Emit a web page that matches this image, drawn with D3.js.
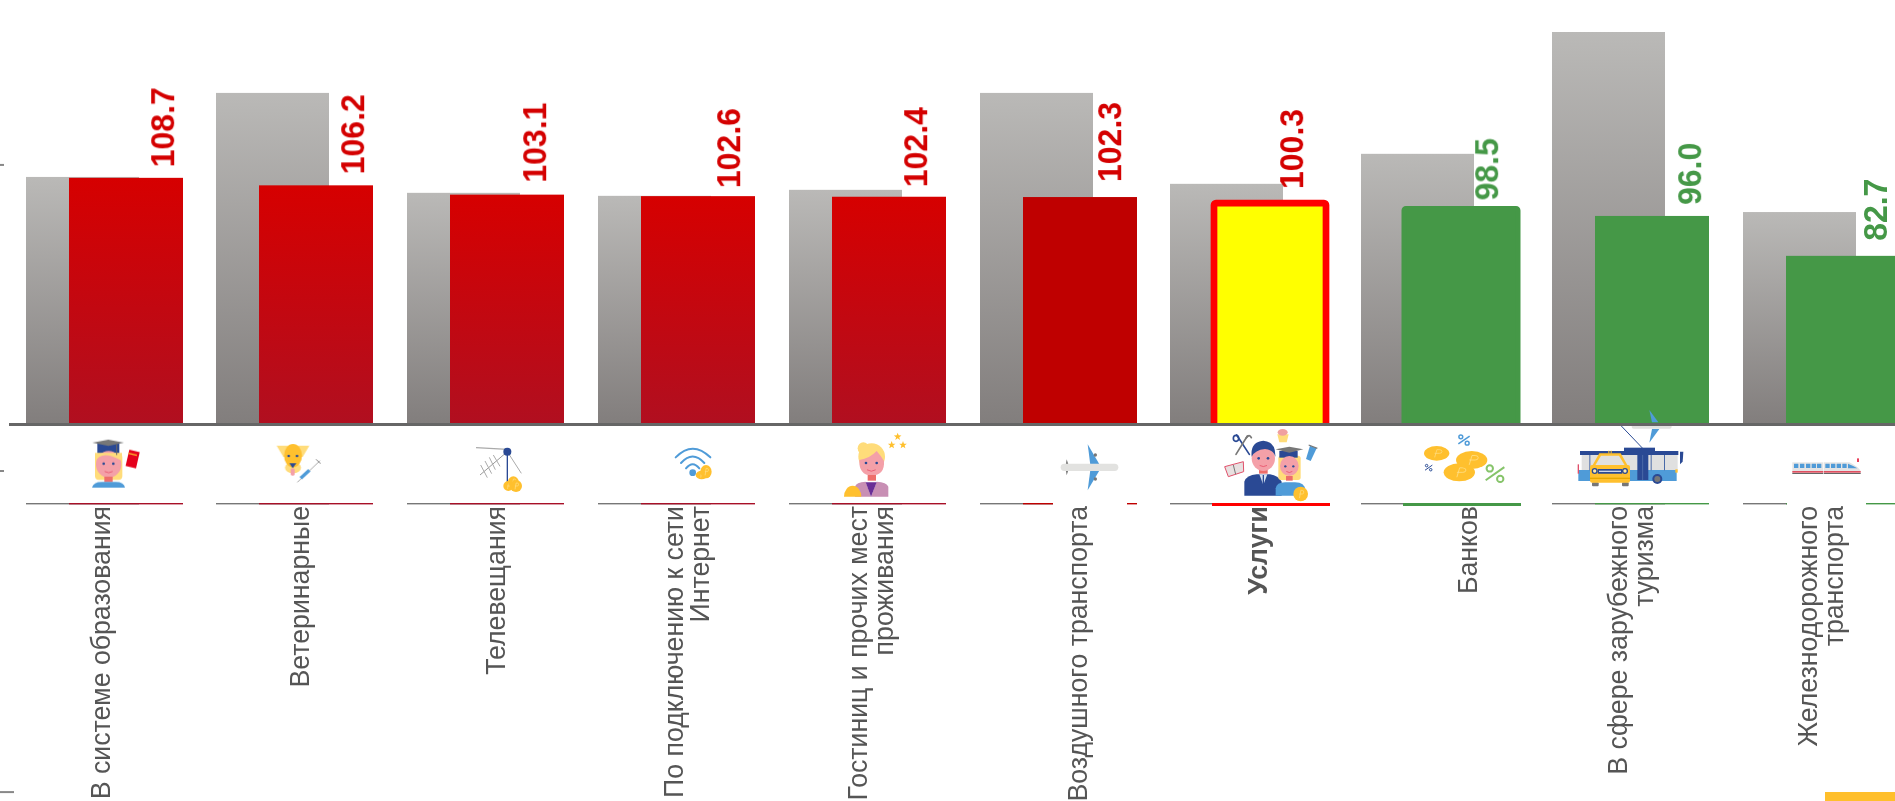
<!DOCTYPE html>
<html><head><meta charset="utf-8">
<style>html,body{margin:0;padding:0;background:#fff;overflow:hidden}svg{display:block}</style>
<script src="https://cdn.jsdelivr.net/npm/d3@7/dist/d3.min.js"></script></head><body>
<svg id="c" width="1895" height="801"></svg>
<script>
const categories=["В системе образования","Ветеринарные","Телевещания","По подключению к сети|Интернет","Гостиниц и прочих мест|проживания","Воздушного транспорта","Услуги","Банков","В сфере зарубежного|туризма","Железнодорожного|транспорта"];
const greyValues=[109,137,103.7,102.7,104.7,137,106.7,116.7,157.3,97.3];
const colorValues=[108.7,106.2,103.1,102.6,102.4,102.3,100.3,98.5,96.0,82.7];
const kinds=["red","red","red","red","red","dark","total","bank","green","green"];
const axisTicks=[113,11,-96];
// layout only
const tickLen=[4,4,14];
const labelBase=[110,309,505,683,867,1087,1267,1477,1627,1817];
const valueBase=[174,364,546,740,927,1121,1303,1498,1701,1887];
const valueShift=[1.5,1,0,4,2.5,-3,-2,4,1,-3];

const svg=d3.select("#c");
const x=d3.scaleBand().domain(categories).range([-9,1899]).padding(0);
const y=d3.scaleLinear().domain([27,157.3]).range([423,32]);
const gw=113,cw=114,cOff=43;
const defs=svg.append("defs");
function grad(id,a,b){const g=defs.append("linearGradient").attr("id",id).attr("x1",0).attr("x2",0).attr("y1",0).attr("y2",1);
 g.append("stop").attr("offset",0).attr("stop-color",a);g.append("stop").attr("offset",1).attr("stop-color",b);}
grad("g","#bab9b7","#827e7d");grad("r","#d60000","#ae1022");
defs.append("clipPath").attr("id","above").append("rect").attr("width",1895).attr("height",423);
defs.append("filter").attr("id","soft").append("feGaussianBlur").attr("stdDeviation",1.3);
const fill={red:"url(#r)",dark:"#bf0000",total:"#ffff00",bank:"#459847",green:"#459847"};
const rule={red:"#a81028",dark:"#bf0000",total:"#ff0000",bank:"#459847",green:"#459847"};
const ink={red:"#d40000",dark:"#d40000",total:"#d40000",bank:"#459847",green:"#459847"};
const sw={total:6.7,bank:5};
const items=categories.map((c,i)=>({c,i,g:greyValues[i],v:colorValues[i],k:kinds[i]}));
const x0=d=>Math.floor(x(d.c)+35);
const xc=d=>x0(d)+cOff+(d.k=="total"?1:0);
const wc=d=>d.k=="total"?112:cw;

svg.selectAll(".g").data(items).join("rect").attr("x",x0).attr("width",gw).attr("y",d=>y(d.g)).attr("height",d=>423-y(d.g)).attr("fill","url(#g)");
svg.append("g").attr("clip-path","url(#above)").selectAll("rect").data(items).join("rect")
 .attr("x",xc).attr("width",wc).attr("y",d=>y(d.v)).attr("height",d=>440-y(d.v))
 .attr("fill",d=>fill[d.k]).attr("rx",d=>sw[d.k]?2:0)
 .attr("stroke",d=>d.k=="total"?"#ff0000":d.k=="bank"?"#459847":"none").attr("stroke-width",d=>sw[d.k]||0);

// lower rule
svg.selectAll(".lg").data(items).join("rect").attr("x",x0).attr("width",gw).attr("y",503).attr("height",1.4).attr("fill","#777");
svg.selectAll(".lv").data(items).join("rect").attr("x",d=>d.k=="total"?1212:d.k=="bank"?1403:xc(d)).attr("width",d=>d.k=="total"?118:d.k=="bank"?118:cw)
 .attr("y",503).attr("height",d=>sw[d.k]?3:1.4).attr("fill",d=>rule[d.k]);
[[1053,1127],[1787,1866]].forEach(m=>svg.append("rect").attr("x",m[0]).attr("y",500).attr("width",m[1]-m[0]).attr("height",8).attr("fill","#fff"));

// ---------- icons (decorative pictograms) ----------
const NAVY="#2a4a94",GOLD="#ffc02e",SKIN="#f4a0a8",HAIR="#ffdc7a",BLUE="#4f9bd8",NECK="#ee6e6a";
function layer(ox,oy){return svg.append("g").attr("transform",`translate(${ox},${oy}) scale(${1/3})`).attr("filter","url(#soft)");}
const ell=(g,cx,cy,rx,ry,f)=>g.append("ellipse").attr("cx",cx).attr("cy",cy).attr("rx",rx).attr("ry",ry).attr("fill",f);
const box=(g,a,b,w,h,f,r)=>g.append("rect").attr("x",a).attr("y",b).attr("width",w).attr("height",h).attr("fill",f).attr("rx",r||0);
const pth=(g,dd,f)=>g.append("path").attr("d",dd).attr("fill",f);
const seg=(g,a,b,c,e,s,w)=>g.append("line").attr("x1",a).attr("y1",b).attr("x2",c).attr("y2",e).attr("stroke",s).attr("stroke-width",w);
const arc=(g,dd,s,w)=>g.append("path").attr("d",dd).attr("fill","none").attr("stroke",s).attr("stroke-width",w).attr("stroke-linecap","round");
function star(g,cx,cy,r,f){const p=d3.range(10).map(i=>{const a=-Math.PI/2+i*Math.PI/5,q=i%2?r*.42:r;return [cx+q*Math.cos(a),cy+q*Math.sin(a)].join(",")}).join(" ");g.append("polygon").attr("points",p).attr("fill",f);}
function pct(g,cx,cy,s,col,w){const a=s*.28;g.append("circle").attr("cx",cx-a).attr("cy",cy-a).attr("r",s*.17).attr("fill","none").attr("stroke",col).attr("stroke-width",w);
 g.append("circle").attr("cx",cx+a).attr("cy",cy+a).attr("r",s*.17).attr("fill","none").attr("stroke",col).attr("stroke-width",w);seg(g,cx-s*.5,cy+s*.35,cx+s*.5,cy-s*.35,col,w);}
function coin(g,cx,cy,rx,ry){ell(g,cx,cy,rx,ry,GOLD);arc(g,`M${cx-rx*.15} ${cy+ry*.5}L${cx+rx*.02} ${cy-ry*.5}h${rx*.2}a${rx*.2} ${ry*.25} 0 0 1 0 ${ry*.5}h-${rx*.35}`,"#ffe08a",Math.max(2,ry*.09));}

// graduate
let g=layer(60,425);
box(g,105,85,82,80,HAIR,12);box(g,112,55,66,30,NAVY);
pth(g,"M97 53L145 44L192 53L145 63Z","#777");
ell(g,146,118,38,40,SKIN);pth(g,"M105 110Q125 72 186 108L186 84L105 84Z",HAIR);
ell(g,131,116,4,4,NAVY);ell(g,160,116,4,4,NAVY);arc(g,"M135 140Q146 147 157 140","#e8506a",2.5);
box(g,133,155,25,16,NECK);pth(g,"M96 188Q100 171 125 171H167Q192 171 195 188Z",BLUE);
seg(g,170,58,170,90,"#666",3);
g.append("rect").attr("x",-16).attr("y",-25).attr("width",32).attr("height",50).attr("fill","#e4001b").attr("transform","translate(218,102) rotate(13)");
box(g,205,86,26,4,GOLD).attr("transform","rotate(13 218 88)");
// dog
pth(g,"M650 62H748L728 96H670Z",HAIR);ell(g,699,128,24,17,HAIR);ell(g,699,92,27,35,GOLD);
ell(g,686,93,4,4,NAVY);ell(g,711,93,4,4,NAVY);pth(g,"M688 115H709L698 130Z",NAVY);box(g,692,130,12,22,SKIN,5);
seg(g,712,172,780,107,"#aaa",3);seg(g,722,160,748,136,BLUE,10);seg(g,768,103,782,116,"#888",3);

// antenna + wifi
g=layer(450,425);
seg(g,78,68,172,73,"#aaa",4);seg(g,172,80,90,150,"#999",3);seg(g,172,80,214,145,"#aaa",3);seg(g,172,80,172,172,NAVY,4);
[[92,120,112,158],[105,108,125,146],[118,97,136,134],[130,90,150,124]].forEach(q=>seg(g,q[0],q[1],q[2],q[3],"#aaa",3));
ell(g,172,80,12,12,NAVY);coin(g,175,183,15,15);coin(g,190,170,16,16);coin(g,198,183,18,18);
arc(g,"M677 97Q728 45 781 97",BLUE,6);arc(g,"M693 114Q728 75 763 114",BLUE,6);arc(g,"M708 130Q728 105 748 130",BLUE,6);
ell(g,728,143,10,10,BLUE);coin(g,755,150,18,13);coin(g,768,140,17,20);

// hotel + plane
g=layer(820,425);
ell(g,130,70,17,18,HAIR);ell(g,155,95,40,40,HAIR);pth(g,"M118 105Q150 100 170 78Q185 95 192 108Q195 150 155 152Q116 150 118 105Z",SKIN);
ell(g,138,114,4,4,NAVY);ell(g,170,114,4,4,NAVY);arc(g,"M142 135Q154 143 166 135","#e8506a",2.5);box(g,143,150,25,17,NECK);
pth(g,"M105 215V185Q108 172 137 170L153 215L170 170Q200 172 205 185V215Z","#c88fb4");pth(g,"M137 172H170L153 215Z","#6a2e96");
pth(g,"M72 215A26 33 0 0 1 124 215Z",GOLD);
star(g,233,35,12,GOLD);star(g,215,60,12,GOLD);star(g,249,60,12,GOLD);
pth(g,"M803 58L839 119H811Z",BLUE);pth(g,"M811 135H839L803 196Z",BLUE);
ell(g,826,90,5,5,"#777");ell(g,826,162,5,5,"#777");
pth(g,"M740 103L748 127L740 151L736 127Z","#777");
box(g,722,116,173,22,"#e2e2e0",11);

// services
g=layer(1210,425);
arc(g,"M80 30L118 88",NAVY,5);arc(g,"M112 33L78 88","#777",5);ell(g,78,40,8,9,"none").attr("stroke",NAVY).attr("stroke-width",5);arc(g,"M108 40Q118 25 124 38","#777",5);
pth(g,"M44 125L100 110L101 140L55 155Z","#e8e0e0").attr("stroke","#e0506a").attr("stroke-width",3);seg(g,70,120,77,148,"#777",3);
pth(g,"M202 28H236L230 52H208Z",HAIR);ell(g,218,22,15,10,"#f0a0a0");
pth(g,"M300 62L320 70L302 108L288 102Z",BLUE);seg(g,296,60,322,70,"#777",4);
pth(g,"M103 212V170Q110 150 140 148H180Q205 152 215 170V212Z",NAVY);pth(g,"M148 148H172L160 180Z","#d8e4f2");seg(g,160,150,160,180,NAVY,4);
box(g,147,128,26,18,NECK);ell(g,160,100,35,38,SKIN);pth(g,"M125 95Q120 50 160 47Q198 50 196 95Q190 75 165 72Q135 75 125 95Z",NAVY);
ell(g,146,100,4,4,NAVY);ell(g,174,100,4,4,NAVY);arc(g,"M150 122Q160 128 170 122","#e8506a",2.5);
box(g,205,92,67,73,HAIR,8);box(g,208,78,55,20,NAVY);pth(g,"M197 73L238 65L280 73L238 83Z","#777");
ell(g,238,123,28,30,SKIN);ell(g,226,124,3.5,3.5,NAVY);ell(g,250,124,3.5,3.5,NAVY);arc(g,"M230 140Q238 146 246 140","#e8506a",2.5);
box(g,228,153,20,14,NECK);pth(g,"M197 212V190Q200 172 225 172H255Q285 172 285 195V212Z",BLUE);coin(g,272,207,22,22);

// banks
coin(g,680,85,38,22);coin(g,748,142,47,27);coin(g,785,105,47,27);
pct(g,762,45,34,BLUE,4.5);pct(g,656,128,22,NAVY,3);pct(g,855,146,56,"#86c46a",6);

// taxi, trolley, plane, train
g=layer(1560,405);
seg(g,183,62,248,130,NAVY,3);
box(g,192,128,93,14,NAVY);box(g,60,138,295,12,NAVY);
box(g,65,150,288,50,"#e0e0e0");box(g,55,195,295,33,BLUE);box(g,53,178,4,28,"#e0506a");
[88,272,312].forEach(a=>box(g,a,150,3,46,"#4a6aa8"));
box(g,232,150,33,75,NAVY);seg(g,248,150,248,225,"#4a6aa8",3);
pth(g,"M360 140L370 140L368 170L360 178Z",NAVY);box(g,346,193,7,10,GOLD);
ell(g,292,222,15,15,NAVY);ell(g,292,222,9,9,"#777");
box(g,96,232,20,12,"#777",3);box(g,186,232,20,12,"#777",3);
pth(g,"M118 145H182L205 185H95Z",GOLD);pth(g,"M123 152H177L195 182H105Z","#e0e0e0");
box(g,90,180,120,53,GOLD,6);box(g,145,137,3,9,GOLD);box(g,152,137,3,9,GOLD);
ell(g,104,198,9,9,NAVY);ell(g,104,198,5,5,"#ffe9a8");ell(g,195,198,9,9,NAVY);ell(g,195,198,5,5,"#ffe9a8");
box(g,113,192,74,14,NAVY,2);box(g,117,197,66,4,"#cfd6e8");box(g,90,218,120,4,"#e8a800");
pth(g,"M268 15L295 52H276Z",BLUE);pth(g,"M276 72H298L268 113Z",BLUE);box(g,215,58,120,13,"#e2e2e0",6);
// train
pth(g,"M697 172H790V207H697Z","#e4e4e4");pth(g,"M792 172H868Q895 185 902 198V207H792Z","#e4e4e4");
[702,720,738,755,771,796,813,830,847].forEach(a=>box(g,a,176,13,13,BLUE,1));pth(g,"M864 176Q880 182 892 190H864Z",BLUE);
box(g,697,198,93,5,"#e05060");box(g,792,198,110,5,"#e05060");box(g,697,204,93,3,"#666");box(g,792,204,110,3,"#666");
box(g,891,160,6,11,"#e8405a",1);

// baseline and axis ticks
svg.append("rect").attr("x",9).attr("y",423).attr("width",1886).attr("height",3).attr("fill","#666");
svg.selectAll(".t").data(axisTicks).join("rect").attr("x",0).attr("y",d=>y(d)-1).attr("height",2).attr("width",(d,i)=>tickLen[i]).attr("fill","#888");

// category labels
const lab=svg.append("g").attr("font-family","Liberation Sans").attr("font-size",26.7).attr("fill","#555");
items.forEach(d=>{d.c.split("|").forEach((t,j)=>{lab.append("text").attr("transform",`translate(${labelBase[d.i]+j*25.5},506) rotate(-90) scale(1,1.05)`)
 .attr("text-anchor","end").attr("font-weight",d.k=="total"?"bold":"normal").text(t);});});
// value labels
svg.append("g").attr("font-family","Liberation Sans").attr("font-size",32).attr("font-weight","bold").selectAll("text").data(items).join("text")
 .attr("transform",d=>`translate(${valueBase[d.i]},${y(d.v)-12+valueShift[d.i]}) rotate(-90) scale(1,1.06)`).attr("fill",d=>ink[d.k]).text(d=>d.v.toFixed(1));
svg.append("rect").attr("x",1825).attr("y",792).attr("width",70).attr("height",9).attr("fill","#ffbf2b");
</script></body></html>
